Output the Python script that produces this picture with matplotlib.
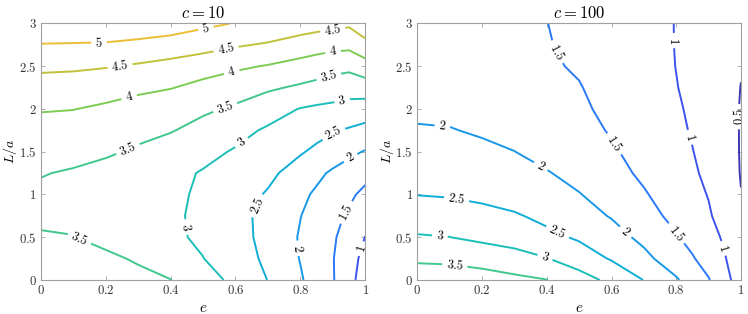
import numpy as np
import matplotlib
matplotlib.use("Agg")
import matplotlib.pyplot as plt
from matplotlib.colors import LinearSegmentedColormap, Normalize
from matplotlib.ticker import FuncFormatter, MultipleLocator

plt.rcParams['mathtext.fontset'] = 'cm'

# grid
e_vals = [0, 0.1, 0.2, 0.3, 0.4, 0.5, 0.6, 0.7, 0.8, 0.85, 0.9, 0.95, 1.0]
L_vals = [0, 0.25, 0.5, 0.75, 1.0, 1.25, 1.5, 1.75, 2.0, 2.25, 2.5, 2.75, 3.0]

# c = 10, rows are L/a, columns are e
z_c10 = [
    [3.72, 3.71, 3.67, 3.60, 3.51, 3.21, 2.88, 2.49, 2.05, 1.79, 1.53, 1.18, 0.72],
    [3.65, 3.62, 3.57, 3.46, 3.23, 3.01, 2.72, 2.41, 1.98, 1.75, 1.52, 1.20, 0.85],
    [3.53, 3.51, 3.40, 3.26, 3.09, 2.92, 2.66, 2.37, 1.96, 1.76, 1.56, 1.29, 0.99],
    [3.44, 3.42, 3.36, 3.24, 3.10, 2.875, 2.64, 2.37, 2.01, 1.82, 1.63, 1.43, 1.20],
    [3.43, 3.42, 3.37, 3.26, 3.12, 2.91, 2.69, 2.46, 2.10, 1.93, 1.76, 1.59, 1.38],
    [3.52, 3.46, 3.36, 3.24, 3.11, 2.97, 2.80, 2.60, 2.30, 2.10, 1.93, 1.79, 1.65],
    [3.68, 3.63, 3.56, 3.44, 3.28, 3.12, 2.96, 2.76, 2.54, 2.41, 2.25, 2.10, 1.97],
    [3.84, 3.80, 3.72, 3.62, 3.53, 3.34, 3.14, 2.94, 2.74, 2.64, 2.54, 2.45, 2.35],
    [4.03, 4.01, 3.93, 3.81, 3.70, 3.58, 3.43, 3.20, 2.98, 2.92, 2.89, 2.83, 2.77],
    [4.28, 4.25, 4.18, 4.10, 4.02, 3.87, 3.72, 3.57, 3.43, 3.35, 3.25, 3.20, 3.25],
    [4.60, 4.58, 4.53, 4.44, 4.32, 4.20, 4.08, 3.97, 3.83, 3.76, 3.67, 3.62, 3.80],
    [4.98, 4.97, 4.96, 4.91, 4.84, 4.70, 4.55, 4.45, 4.28, 4.20, 4.15, 4.13, 4.35],
    [5.35, 5.33, 5.30, 5.25, 5.20, 5.10, 4.98, 4.88, 4.76, 4.70, 4.64, 4.58, 4.85],
]

# c = 100
z_c100 = [
    [3.72, 3.71, 3.67, 3.60, 3.51, 3.21, 2.88, 2.49, 2.05, 1.79, 1.53, 1.18, 0.72],
    [3.44, 3.42, 3.35, 3.22, 3.02, 2.75, 2.46, 2.12, 1.74, 1.54, 1.30, 1.03, 0.67],
    [3.04, 3.005, 2.88, 2.76, 2.62, 2.44, 2.18, 1.89, 1.54, 1.35, 1.15, 0.94, 0.60],
    [2.76, 2.73, 2.65, 2.55, 2.38, 2.18, 1.97, 1.68, 1.37, 1.21, 1.05, 0.81, 0.55],
    [2.49, 2.46, 2.39, 2.29, 2.16, 2.02, 1.79, 1.54, 1.27, 1.13, 0.98, 0.74, 0.51],
    [2.34, 2.31, 2.24, 2.14, 2.03, 1.85, 1.65, 1.42, 1.19, 1.06, 0.91, 0.73, 0.48],
    [2.19, 2.16, 2.09, 2.005, 1.85, 1.70, 1.55, 1.35, 1.12, 1.01, 0.88, 0.72, 0.47],
    [2.04, 2.02, 1.95, 1.86, 1.75, 1.62, 1.47, 1.28, 1.08, 0.97, 0.86, 0.71, 0.47],
    [1.91, 1.90, 1.85, 1.78, 1.69, 1.57, 1.40, 1.22, 1.04, 0.95, 0.85, 0.71, 0.47],
    [1.80, 1.79, 1.75, 1.69, 1.61, 1.52, 1.35, 1.18, 1.01, 0.93, 0.84, 0.72, 0.49],
    [1.70, 1.69, 1.66, 1.61, 1.55, 1.46, 1.31, 1.15, 0.995, 0.92, 0.84, 0.73, 0.53],
    [1.62, 1.61, 1.59, 1.55, 1.52, 1.42, 1.28, 1.13, 0.99, 0.92, 0.84, 0.74, 0.56],
    [1.55, 1.55, 1.54, 1.52, 1.505, 1.39, 1.26, 1.12, 0.99, 0.92, 0.84, 0.74, 0.58],
]

levels_c10 = [1, 1.5, 2, 2.5, 3, 3.5, 4, 4.5, 5]
levels_c100 = [0.5, 1, 1.5, 2, 2.5, 3, 3.5]
titles = [r'$c=10$', r'$c=100$']

# where the inline labels sit
lab_c10 = [(0.18, 2.74), (0.51, 2.93), (0.245, 2.49), (0.57, 2.72), (0.90, 2.92),
           (0.275, 2.10), (0.59, 2.41), (0.90, 2.69), (0.27, 1.52), (0.57, 2.0),
           (0.886, 2.40), (0.12, 0.49), (0.62, 1.6), (0.927, 2.13), (0.45, 0.62),
           (0.66, 0.88), (0.90, 1.73), (0.79, 0.37), (0.953, 1.44), (0.937, 0.80),
           (0.984, 0.37)]
lab_c100 = [(0.117, 0.2), (0.07, 0.526), (0.395, 0.27), (0.122, 0.96), (0.436, 0.58),
            (0.077, 1.78), (0.38, 1.32), (0.647, 0.576), (0.443, 2.69), (0.611, 1.60),
            (0.80, 0.545), (0.795, 2.80), (0.843, 1.67), (0.946, 0.37), (0.996, 1.91)]

# parula-like map
parula = LinearSegmentedColormap.from_list('parula', [
    (0.00, (0.208, 0.166, 0.529)),
    (0.10, (0.255, 0.275, 0.920)),
    (0.20, (0.170, 0.470, 0.970)),
    (0.30, (0.080, 0.620, 0.900)),
    (0.40, (0.050, 0.720, 0.800)),
    (0.50, (0.200, 0.780, 0.600)),
    (0.60, (0.500, 0.800, 0.320)),
    (0.70, (0.850, 0.740, 0.200)),
    (0.80, (0.990, 0.750, 0.240)),
    (0.90, (0.960, 0.860, 0.150)),
    (1.00, (0.976, 0.984, 0.080)),
])
norm = Normalize(vmin=0.18, vmax=6.6)

E, L = np.meshgrid(e_vals, L_vals)
fig = plt.figure(figsize=(7.48, 3.14), dpi=100)
ax1 = fig.add_axes([0.0544, 0.1083, 0.434, 0.8169])
ax2 = fig.add_axes([0.5579, 0.1083, 0.4327, 0.8169])

fmt = lambda v: '$%g$' % v
tickfmt = FuncFormatter(lambda v, p: '$%g$' % round(v, 2))

for ax, z, lev, labs, ttl in [(ax1, z_c10, levels_c10, lab_c10, titles[0]),
                              (ax2, z_c100, levels_c100, lab_c100, titles[1])]:
    cs = ax.contour(E, L, np.array(z), levels=lev, cmap=parula, norm=norm,
                    linewidths=1.4)
    ax.clabel(cs, inline=True, fmt=fmt, fontsize=9, manual=labs,
              inline_spacing=4, colors='k')
    ax.set_xlim(0, 1)
    ax.set_ylim(0, 3)
    ax.xaxis.set_major_locator(MultipleLocator(0.2))
    ax.yaxis.set_major_locator(MultipleLocator(0.5))
    ax.xaxis.set_major_formatter(tickfmt)
    ax.yaxis.set_major_formatter(tickfmt)
    ax.tick_params(direction='in', top=True, right=True, length=3, width=0.6,
                   color='#a0a0a0', labelcolor='#333333', labelsize=9.2, pad=3)
    for s in ax.spines.values():
        s.set_color('#a0a0a0')
        s.set_linewidth(0.8)
    ax.set_title(ttl, fontsize=12, pad=4)
    ax.set_xlabel(r'$e$', fontsize=11, labelpad=2)
    ax.set_ylabel(r'$L/a$', fontsize=10)
    ax.yaxis.set_label_coords(-0.067, 0.5)

fig.savefig('out.png', dpi=100)
